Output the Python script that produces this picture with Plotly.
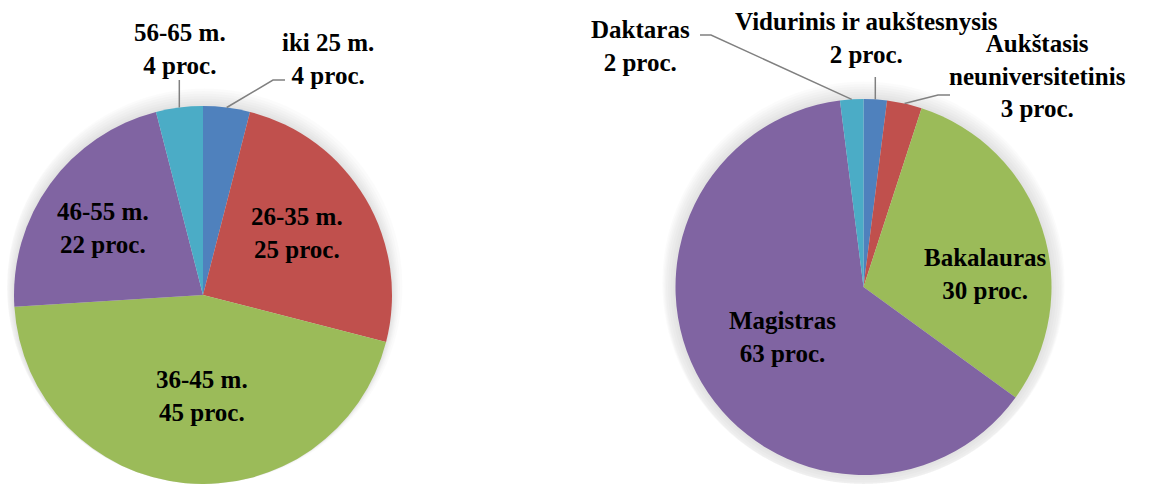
import math
import plotly.graph_objects as go

W, H = 1151, 484

# ---- data ----
age_labels = ["iki 25 m.", "26-35 m.", "36-45 m.", "46-55 m.", "56-65 m."]
age_values = [4, 25, 45, 22, 4]
edu_labels = ["Vidurinis ir aukštesnysis", "Aukštasis neuniversitetinis",
              "Bakalauras", "Magistras", "Daktaras"]
edu_values = [2, 3, 30, 63, 2]
colors = ["#4F81BD", "#C0504D", "#9BBB59", "#8064A2", "#4BACC6"]

FONT = dict(family="Liberation Serif", size=25, color="black", weight="bold")

# pie geometry (pixels)
L_C, L_R = (203, 295), 189
R_C, R_R = (863.5, 287), 188


def px(x):
    return x / W


def py(y):
    return 1 - y / H


def domain(c, r):
    return dict(x=[max(0, px(c[0] - r)), min(1, px(c[0] + r))],
                y=[max(0, py(c[1] + r)), min(1, py(c[1] - r))])


def mid_point(values, i, c, r):
    tot = sum(values)
    a = (sum(values[:i]) + values[i] / 2) / tot * 2 * math.pi
    return c[0] + r * math.sin(a), c[1] - r * math.cos(a)


fig = go.Figure()
# soft glow behind each pie
for c, r in [(L_C, L_R), (R_C, R_R)]:
    for k in range(7, 0, -1):
        fig.add_trace(go.Pie(
            values=[1], labels=[""], sort=False, textinfo="none", hoverinfo="skip",
            marker=dict(colors=["rgba(0,0,0,0.014)"], line=dict(width=0)),
            domain=domain(c, r + 2.5 * k), showlegend=False,
        ))

for vals, labs, c, r in [(age_values, age_labels, L_C, L_R), (edu_values, edu_labels, R_C, R_R)]:
    fig.add_trace(go.Pie(
        values=vals, labels=labs, sort=False, direction="clockwise", rotation=0,
        marker=dict(colors=colors, line=dict(width=0)), textinfo="none",
        hoverinfo="label+percent", domain=domain(c, r), showlegend=False,
    ))

ann = []


def label(text, x, y):
    ann.append(dict(text=text, x=px(x), y=py(y), xref="paper", yref="paper",
                    showarrow=False, font=FONT, xanchor="center", yanchor="middle",
                    align="center"))


# left pie labels
label(f"{age_labels[4]}<br>{age_values[4]} proc.", 180, 49)
label(f"{age_labels[0]}<br>{age_values[0]} proc.", 328, 59)
label(f"{age_labels[1]}<br>{age_values[1]} proc.", 297, 233)
label(f"{age_labels[3]}<br>{age_values[3]} proc.", 103, 228)
label(f"{age_labels[2]}<br>{age_values[2]} proc.", 202, 396)
# right pie labels
label(f"{edu_labels[4]}<br>{edu_values[4]} proc.", 640, 46)
label(f"{edu_labels[0]}<br>{edu_values[0]} proc.", 866, 38)
label(f"Aukštasis<br>neuniversitetinis<br>{edu_values[1]} proc.", 1037, 76)
label(f"{edu_labels[2]}<br>{edu_values[2]} proc.", 985, 274)
label(f"{edu_labels[3]}<br>{edu_values[3]} proc.", 782, 337)

shapes = []
LINE = dict(color="#808080", width=1.5)


def leader(points):
    path = "M " + " L ".join(f"{px(x)},{py(y)}" for x, y in points)
    shapes.append(dict(type="path", path=path, xref="paper", yref="paper", line=LINE))


# left leaders
s = mid_point(age_values, 4, L_C, L_R)
leader([s, (s[0], 80)])
s = mid_point(age_values, 0, L_C, L_R)
leader([s, (273, 80), (285, 80)])
# right leaders
s = mid_point(edu_values, 4, R_C, R_R)
leader([s, (711, 35), (700, 35)])
s = mid_point(edu_values, 0, R_C, R_R)
leader([s, (s[0], 77)])
s = mid_point(edu_values, 1, R_C, R_R)
leader([s, (938, 95), (950, 95)])

fig.update_layout(
    width=W, height=H, margin=dict(l=0, r=0, t=0, b=0),
    paper_bgcolor="white", plot_bgcolor="white",
    annotations=ann, shapes=shapes,
)
fig.write_html("out.html", config={"displayModeBar": False},
               post_script="document.body.style.margin='0';")
